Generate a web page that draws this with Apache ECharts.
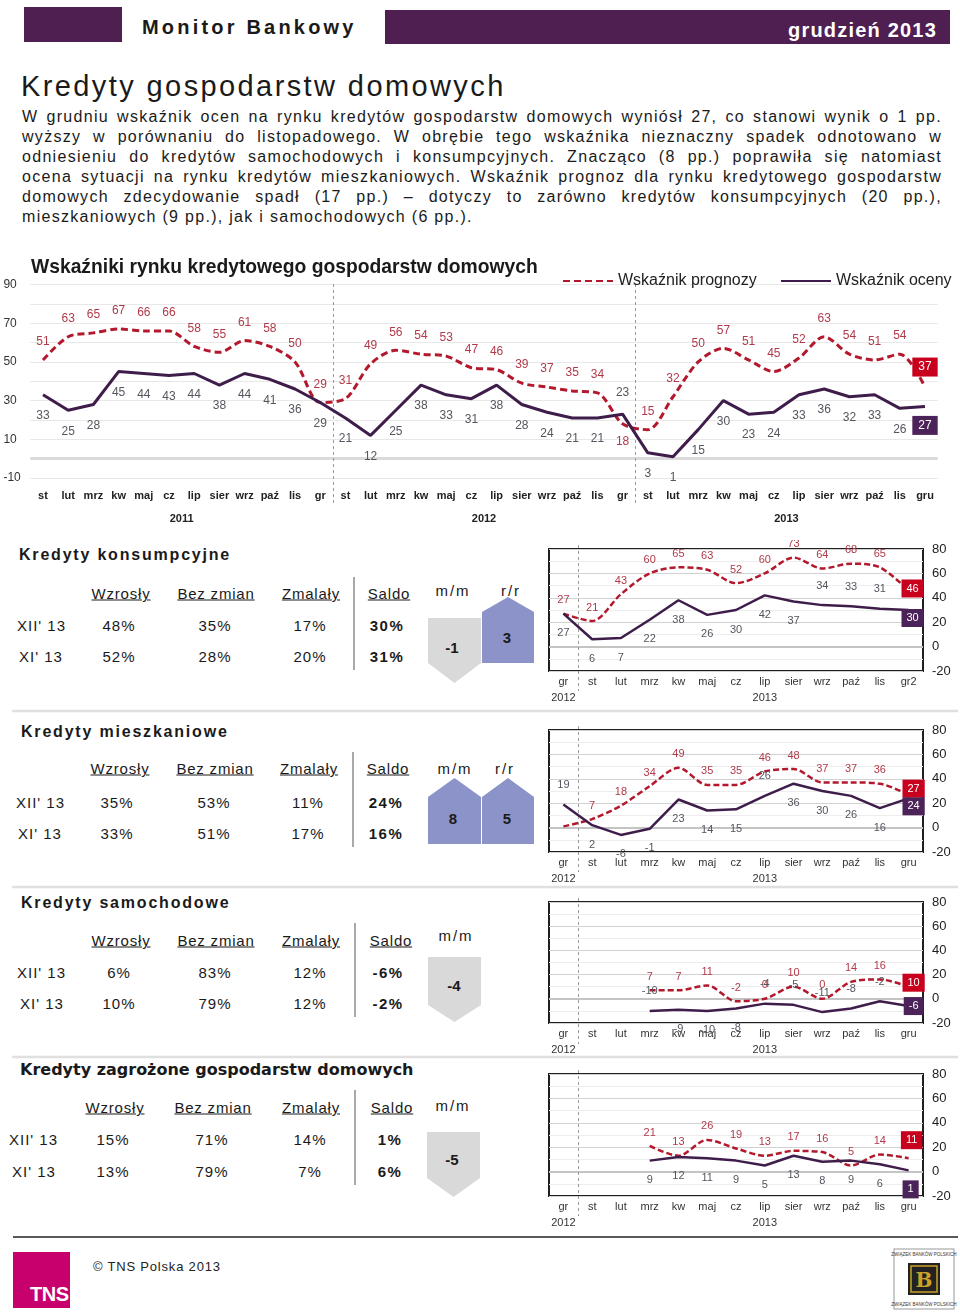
<!DOCTYPE html>
<html><head><meta charset="utf-8">
<script src="https://cdn.jsdelivr.net/npm/echarts@6/dist/echarts.min.js"></script>
<style>
body{margin:0;background:#fff;}
#page{position:relative;width:960px;height:1316px;overflow:hidden;font-family:"Liberation Sans",Arial,sans-serif;color:#1a1a1a;}
.t{position:absolute;white-space:nowrap;line-height:1;}
.para{position:absolute;left:22px;width:920px;font-size:16px;letter-spacing:1.3px;line-height:20px;height:20px;text-align:justify;text-align-last:justify;white-space:nowrap;}
.chart{position:absolute;}
</style></head>
<body><div id="page">
<svg id="shapes" width="960" height="1316" style="position:absolute;left:0;top:0"></svg>
<div id="mainChart" class="chart" style="left:0;top:250px;width:960px;height:290px"></div>
<div id="c1" class="chart" style="left:545px;top:540px;width:415px;height:165px"></div>
<div id="c2" class="chart" style="left:545px;top:720px;width:415px;height:165px"></div>
<div id="c3" class="chart" style="left:545px;top:895px;width:415px;height:160px"></div>
<div id="c4" class="chart" style="left:545px;top:1065px;width:415px;height:165px"></div>
</div>
<script>
// ---------------- DATA ----------------
const mainCategories = ['st','lut','mrz','kw','maj','cz','lip','sier','wrz','paź','lis','gr',
  'st','lut','mrz','kw','maj','cz','lip','sier','wrz','paź','lis','gr',
  'st','lut','mrz','kw','maj','cz','lip','sier','wrz','paź','lis','gru'];
const mainYears = ['2011','2012','2013'];
const mainPrognoza = [51,63,65,67,66,66,58,55,61,58,50,29, 31,49,56,54,53,47,46,39,37,35,34,18, 15,32,50,57,51,45,52,63,54,51,54,37];
const mainOcena = [33,25,28,45,44,43,44,38,44,41,36,29, 21,12,25,38,33,31,38,28,24,21,21,23, 3,1,15,30,23,24,33,36,32,33,26,27];
const mainYTickLabels = [-10,10,30,50,70,90];
const seriesNames = ['Wskaźnik prognozy','Wskaźnik oceny'];

const smallCatsKons = ['gr','st','lut','mrz','kw','maj','cz','lip','sier','wrz','paź','lis','gr2'];
const smallCats = ['gr','st','lut','mrz','kw','maj','cz','lip','sier','wrz','paź','lis','gru'];
const smallYears = ['2012','2013'];
const smallYTickLabels = [-20,0,20,40,60,80];

const konsPrognoza = [27,21,43,60,65,63,52,60,73,64,68,65,46];
const konsOcena    = [27,6,7,22,38,26,30,42,37,34,33,31,30];
const mieszPrognoza = [1,7,18,34,49,35,35,46,48,37,37,36,27];
const mieszOcena    = [19,2,-6,-1,23,14,15,26,36,30,26,16,24];
const samPrognoza = [null,null,null,7,7,11,-2,0,10,0,14,16,10];
const samOcena    = [null,null,null,-10,-9,-10,-8,-4,-5,-11,-8,-2,-6];
const zagPrognoza = [null,null,null,21,13,26,19,13,17,16,5,14,11];
const zagOcena    = [null,null,null,9,12,11,9,5,13,8,9,6,1];

const tableHeaders = ['Wzrosły','Bez zmian','Zmalały','Saldo'];
const rowLabels = ["XII' 13","XI' 13"];
const konsTable  = [['48%','35%','17%','30%'],['52%','28%','20%','31%']];
const mieszTable = [['35%','53%','11%','24%'],['33%','51%','17%','16%']];
const samTable   = [['6%','83%','12%','-6%'],['10%','79%','12%','-2%']];
const zagTable   = [['15%','71%','14%','1%'],['13%','79%','7%','6%']];
const konsChange  = {mm:-1, rr:3};
const mieszChange = {mm:8, rr:5};
const samChange   = {mm:-4};
const zagChange   = {mm:-5};

const paragraphLines = [
 'W grudniu wskaźnik ocen na rynku kredytów gospodarstw domowych wyniósł 27, co stanowi wynik o 1 pp.',
 'wyższy w porównaniu do listopadowego. W obrębie tego wskaźnika nieznaczny spadek odnotowano w',
 'odniesieniu do kredytów samochodowych i konsumpcyjnych. Znacząco (8 pp.) poprawiła się natomiast',
 'ocena sytuacji na rynku kredytów mieszkaniowych. Wskaźnik prognoz dla rynku kredytowego gospodarstw',
 'domowych zdecydowanie spadł (17 pp.) – dotyczy to zarówno kredytów konsumpcyjnych (20 pp.),',
 'mieszkaniowych (9 pp.), jak i samochodowych (6 pp.).'
];

// ---------------- STYLE ----------------
const FONT = '"Liberation Sans", Arial, sans-serif';
const RED = '#b3182d', PURPLE = '#3f1d4b';
const RED_LABEL = '#b03a4a', PURPLE_LABEL = '#55555f';
const RED_BOX = '#c8001e', PURPLE_BOX = '#4b2359';
const BLUE_SHAPE = '#8b93c9', GRAY_SHAPE = '#d9d9d9';

const page = document.getElementById('page');
function txt(s, x, y, css, anchor) {
  const d = document.createElement('div');
  d.className = 't';
  d.textContent = s;
  d.style.left = x + 'px';
  d.style.top = y + 'px';
  d.style.transform = anchor === 'c' ? 'translate(-50%,-50%)' : (anchor === 'r' ? 'translate(-100%,-50%)' : 'translate(0,-50%)');
  d.style.cssText += css || '';
  page.appendChild(d);
  return d;
}
function box(x, y, w, h, color) {
  const d = document.createElement('div');
  d.style.cssText = `position:absolute;left:${x}px;top:${y}px;width:${w}px;height:${h}px;background:${color}`;
  page.appendChild(d);
}

// ---------------- HEADER & TEXT ----------------
box(24, 7, 98, 35, '#4f1f52');
box(385, 10, 565, 34, '#4f1f52');
txt('Monitor Bankowy', 142, 27, 'font-size:20px;font-weight:bold;letter-spacing:3.2px;');
txt('grudzień 2013', 937, 30, 'font-size:20px;font-weight:bold;letter-spacing:1.2px;color:#fff;', 'r');
txt('Kredyty gospodarstw domowych', 21, 86, 'font-size:29px;letter-spacing:2.4px;');
paragraphLines.forEach((l, i) => {
  const d = document.createElement('div');
  d.className = 'para';
  d.textContent = l;
  d.style.top = (107 + i * 20) + 'px';
  if (i === paragraphLines.length - 1) { d.style.textAlign = 'left'; d.style.textAlignLast = 'left'; }
  page.appendChild(d);
});

// ---------------- TABLES ----------------
const svg = document.getElementById('shapes');
function poly(points, color) {
  const p = document.createElementNS('http://www.w3.org/2000/svg', 'polygon');
  p.setAttribute('points', points.map(q => q.join(',')).join(' '));
  p.setAttribute('fill', color);
  svg.appendChild(p);
}
function svgLine(x1, y1, x2, y2, color, w) {
  const l = document.createElementNS('http://www.w3.org/2000/svg', 'line');
  l.setAttribute('x1', x1); l.setAttribute('y1', y1); l.setAttribute('x2', x2); l.setAttribute('y2', y2);
  l.setAttribute('stroke', color); l.setAttribute('stroke-width', w);
  svg.appendChild(l);
}
function arrowShape(x1, x2, yTop, yMid, yBot, up, value, lx, ly) {
  const xc = (x1 + x2) / 2;
  if (up) poly([[xc, yTop], [x2, yMid], [x2, yBot], [x1, yBot], [x1, yMid]], value > 0 ? BLUE_SHAPE : GRAY_SHAPE);
  else poly([[x1, yTop], [x2, yTop], [x2, yMid], [xc, yBot], [x1, yMid]], GRAY_SHAPE);
  txt(String(value), lx, ly, 'font-size:15px;font-weight:bold;', 'c');
}
function table(cfg) {
  txt(cfg.title, cfg.titleX, cfg.titleY, cfg.titleCss, 'l');
  tableHeaders.forEach((h, i) => txt(h, cfg.hx[i], cfg.hy, 'font-size:15px;letter-spacing:0.8px;text-decoration:underline;', 'c'));
  cfg.changeLabels.forEach((c, i) => txt(c, cfg.cx[i], cfg.cy, 'font-size:15px;letter-spacing:2px;', 'c'));
  rowLabels.forEach((r, ri) => {
    txt(r, cfg.rlx[ri], cfg.ry[ri], 'font-size:15px;letter-spacing:1px;', 'l');
    cfg.data[ri].forEach((v, ci) => txt(v, cfg.vx[ci], cfg.ry[ri],
      ci === 3 ? 'font-size:15px;font-weight:bold;letter-spacing:1.5px;' : 'font-size:15px;letter-spacing:1px;', 'c'));
  });
  svgLine(cfg.sepX, cfg.sepY[0], cfg.sepX, cfg.sepY[1], '#8c8c8c', 1.5);
}
table({title:'Kredyty konsumpcyjne', titleX:19, titleY:555, titleCss:'font-size:16px;font-weight:bold;letter-spacing:1.8px;',
  hx:[121,216,311,389], hy:593, changeLabels:['m/m','r/r'], cx:[453,511], cy:590,
  rlx:[17,19], ry:[625,656], data:konsTable, vx:[119,215,310,387], sepX:354, sepY:[577,670]});
arrowShape(428, 481, 618, 663, 683, false, konsChange.mm, 452, 647);
arrowShape(482, 534, 597, 612, 663, true, konsChange.rr, 507, 637);

table({title:'Kredyty mieszkaniowe', titleX:21, titleY:732, titleCss:'font-size:16px;font-weight:bold;letter-spacing:1.8px;',
  hx:[120,215,309,388], hy:768, changeLabels:['m/m','r/r'], cx:[455,505], cy:768,
  rlx:[16,18], ry:[802,833], data:mieszTable, vx:[117,214,308,386], sepX:353, sepY:[752,847]});
arrowShape(428, 481, 778, 797, 844, true, mieszChange.mm, 453, 818);
arrowShape(482, 534, 778, 797, 844, true, mieszChange.rr, 507, 818);

table({title:'Kredyty samochodowe', titleX:21, titleY:903, titleCss:'font-size:16px;font-weight:bold;letter-spacing:1.8px;',
  hx:[121,216,311,391], hy:940, changeLabels:['m/m'], cx:[456], cy:935,
  rlx:[17,20], ry:[972,1003], data:samTable, vx:[119,215,310,388], sepX:355, sepY:[923,1017]});
arrowShape(428, 481, 957, 1005, 1022, false, samChange.mm, 454, 985);

table({title:'Kredyty zagrożone gospodarstw domowych', titleX:20, titleY:1070, titleCss:'font-size:16px;font-weight:bold;font-family:"DejaVu Sans",sans-serif;',
  hx:[115,213,311,392], hy:1107, changeLabels:['m/m'], cx:[453], cy:1105,
  rlx:[9,12], ry:[1139,1171], data:zagTable, vx:[113,212,310,390], sepX:355, sepY:[1090,1185]});
arrowShape(427, 480, 1132, 1178, 1197, false, zagChange.mm, 452, 1159);

// section separators & footer
svgLine(12, 711, 958, 711, '#e0e0e0', 2.5);
svgLine(12, 887, 958, 887, '#e0e0e0', 2.5);
svgLine(12, 1057, 958, 1057, '#e0e0e0', 2.5);
svgLine(13, 1237, 958, 1237, '#222', 1.5);
box(13, 1252, 57, 56, '#c8006e');
txt('TNS', 30, 1294, 'font-size:20px;font-weight:bold;color:#fff;letter-spacing:-0.5px;', 'l');
txt('© TNS Polska 2013', 93, 1266, 'font-size:13px;letter-spacing:0.8px;color:#222;', 'l');
// ZBP badge
(function(){
  const g = document.createElementNS('http://www.w3.org/2000/svg','g');
  g.innerHTML = '<rect x="894" y="1249" width="60" height="60" fill="#fff" stroke="#999" stroke-width="1"/>'+
    '<rect x="908" y="1263" width="32" height="32" fill="#222"/>'+
    '<rect x="911" y="1266" width="26" height="26" fill="none" stroke="#c9a227" stroke-width="1.5"/>'+
    '<text x="924" y="1287" font-size="20" font-weight="bold" fill="#c9a227" text-anchor="middle" font-family="DejaVu Serif">B</text>'+
    '<text x="924" y="1256" font-size="4.5" fill="#333" text-anchor="middle" font-family="Liberation Sans">ZWIĄZEK BANKÓW POLSKICH</text>'+
    '<text x="924" y="1306" font-size="4.5" fill="#333" text-anchor="middle" font-family="Liberation Sans">ZWIĄZEK BANKÓW POLSKICH</text>';
  svg.appendChild(g);
})();

// ---------------- CHARTS ----------------
function buildData(values, o) {
  const last = values.length - 1;
  return values.map((v, i) => {
    if (v === null) return '-';
    const item = {value: v};
    if (o.flip && o.flip.includes(i)) item.label = {position: o.flipPos};
    if (o.hide && o.hide.includes(i)) item.label = {show: false};
    if (i === last) item.label = {show: true, position: 'inside', offset: o.boxOffset, backgroundColor: o.boxColor,
      color: '#fff', padding: o.boxPad, fontSize: o.boxFont, lineHeight: o.boxFont + 1, fontFamily: FONT};
    return item;
  });
}
function separators(chart, indices, y1, y2) {
  const lines = indices.map(i => {
    const a = chart.convertToPixel({xAxisIndex: 0}, i);
    const b = chart.convertToPixel({xAxisIndex: 0}, i + 1);
    const x = Math.round((a + b) / 2) + 0.5;
    return {type: 'line', silent: true, z: 1, shape: {x1: x, y1: y1, x2: x, y2: y2},
      style: {stroke: '#9a9a9a', lineDash: [3, 3], lineWidth: 1}};
  });
  chart.setOption({graphic: lines});
}
const hiddenSymbol = {symbol: 'circle', symbolSize: 0, showSymbol: true, showAllSymbol: true};

// main chart
const main = echarts.init(document.getElementById('mainChart'));
const legendCommon = {top: 18, itemWidth: 50, itemHeight: 14, itemStyle: {opacity: 0},
  textStyle: {fontSize: 16, color: '#222', fontFamily: FONT}};
main.setOption({
  animation: false,
  textStyle: {fontFamily: FONT},
  title: {text: 'Wskaźniki rynku kredytowego gospodarstw domowych', left: 26, top: 3,
    textStyle: {fontSize: 19.3, fontWeight: 'bold', color: '#1a1a1a', fontFamily: FONT}},
  legend: [
    Object.assign({data: [seriesNames[0]], left: 557}, legendCommon),
    Object.assign({data: [seriesNames[1]], left: 775}, legendCommon)
  ],
  grid: {left: 30.4, right: 22.4, top: 34.5, height: 193.5},
  xAxis: [
    {type: 'category', data: mainCategories, axisLine: {show: false}, axisTick: {show: false},
      axisLabel: {interval: 0, margin: 12, fontSize: 11, fontWeight: 'bold', color: '#222', fontFamily: FONT}},
    {type: 'category', data: mainYears, position: 'bottom', offset: 29, axisLine: {show: false}, axisTick: {show: false},
      axisLabel: {interval: 0, margin: 6, fontSize: 11, fontWeight: 'bold', color: '#222', fontFamily: FONT}}
  ],
  yAxis: {type: 'value', min: -10, max: 90, interval: 10,
    axisLine: {show: false}, axisTick: {show: false},
    axisLabel: {formatter: v => mainYTickLabels.includes(v) ? String(v) : '', align: 'left', margin: 27, fontSize: 12, color: '#333'},
    splitLine: {lineStyle: {color: '#e8e8e8', width: 1}}},
  series: [
    Object.assign({name: seriesNames[0], type: 'line', smooth: 0.3, z: 3,
      data: buildData(mainPrognoza, {flip: [23], flipPos: 'bottom', boxOffset: [0, -20], boxColor: RED_BOX, boxPad: [3, 6], boxFont: 12}),
      lineStyle: {color: RED, width: 3, type: [7, 4]}, itemStyle: {color: RED},
      label: {show: true, position: 'top', distance: 12, color: RED_LABEL, fontSize: 12, fontFamily: FONT},
      markLine: {silent: true, symbol: 'none', label: {show: false}, lineStyle: {color: '#dadada', width: 3, type: 'solid'}, data: [{yAxis: 0}], z: 1}}, hiddenSymbol),
    Object.assign({name: seriesNames[1], type: 'line', z: 4,
      data: buildData(mainOcena, {flip: [23], flipPos: 'top', boxOffset: [0, 19], boxColor: PURPLE_BOX, boxPad: [3, 6], boxFont: 12}),
      lineStyle: {color: PURPLE, width: 3}, itemStyle: {color: PURPLE},
      label: {show: true, position: 'bottom', distance: 15, color: PURPLE_LABEL, fontSize: 12, fontFamily: FONT}}, hiddenSymbol)
  ]
});
separators(main, [11, 23], 34, 256);

function smallChart(id, cats, prog, ocena, cfg) {
  const c = echarts.init(document.getElementById(id));
  const yearCats = cats.map((_, i) => i === 0 ? smallYears[0] : (i === 7 ? smallYears[1] : ''));
  c.setOption({
    animation: false,
    textStyle: {fontFamily: FONT},
    grid: {left: 4, top: cfg.gridTop, width: 374, height: 122, show: true, borderColor: '#1f1f1f', borderWidth: 2, backgroundColor: 'transparent'},
    xAxis: [
      {type: 'category', data: cats, axisLine: {show: false}, axisTick: {show: false},
        axisLabel: {interval: 0, margin: 5, fontSize: 11, color: '#333', fontFamily: FONT}},
      {type: 'category', data: yearCats, position: 'bottom', offset: 16, axisLine: {show: false}, axisTick: {show: false},
        axisLabel: {interval: 0, margin: 5, fontSize: 11, color: '#333', fontFamily: FONT}}
    ],
    yAxis: {type: 'value', position: 'right', min: -20, max: 80, interval: 10,
      axisLine: {show: false}, axisTick: {show: false},
      axisLabel: {formatter: v => smallYTickLabels.includes(v) ? String(v) : '', margin: 9, fontSize: 13, color: '#222', fontFamily: FONT},
      splitLine: {lineStyle: {color: ['#d2d2d2', '#ededed'], width: 1}}},
    series: [
      Object.assign({name: seriesNames[0], type: 'line', smooth: 0.3, z: 3, connectNulls: false,
        data: buildData(prog, {hide: cfg.redHide, boxOffset: cfg.redBox, boxColor: RED_BOX, boxPad: [3, 5], boxFont: 11}),
        lineStyle: {color: RED, width: 2.5, type: [6, 3]}, itemStyle: {color: RED},
        label: {show: true, position: 'top', distance: 8, color: RED_LABEL, fontSize: 11, fontFamily: FONT},
        markLine: {silent: true, symbol: 'none', label: {show: false}, lineStyle: {color: '#c4c4c4', width: 2, type: 'solid'}, data: [{yAxis: 0}], z: 1}}, hiddenSymbol),
      Object.assign({name: seriesNames[1], type: 'line', z: 4,
        data: buildData(ocena, {flip: cfg.purpleUp, flipPos: 'top', boxOffset: cfg.purpleBox, boxColor: PURPLE_BOX, boxPad: [3, 5], boxFont: 11}),
        lineStyle: {color: PURPLE, width: 2.5}, itemStyle: {color: PURPLE},
        label: {show: true, position: 'bottom', distance: 14, color: PURPLE_LABEL, fontSize: 11, fontFamily: FONT}}, hiddenSymbol)
    ]
  });
  separators(c, [0], cfg.gridTop - 4, cfg.gridTop + 122 + 20);
  return c;
}
smallChart('c1', smallCatsKons, konsPrognoza, konsOcena, {gridTop: 9, purpleUp: [9, 10, 11], redBox: [4, -2], purpleBox: [4, 8]});
smallChart('c2', smallCats, mieszPrognoza, mieszOcena, {gridTop: 10, redHide: [0], purpleUp: [0, 7], redBox: [5, -6], purpleBox: [5, 8]});
smallChart('c3', smallCats, samPrognoza, samOcena, {gridTop: 7, purpleUp: [3, 7, 8, 9, 10, 11], redBox: [5, -4], purpleBox: [5, 0]});
smallChart('c4', smallCats, zagPrognoza, zagOcena, {gridTop: 9, purpleUp: [], redBox: [3, -18], purpleBox: [2, 19]});
</script>
</body></html>
